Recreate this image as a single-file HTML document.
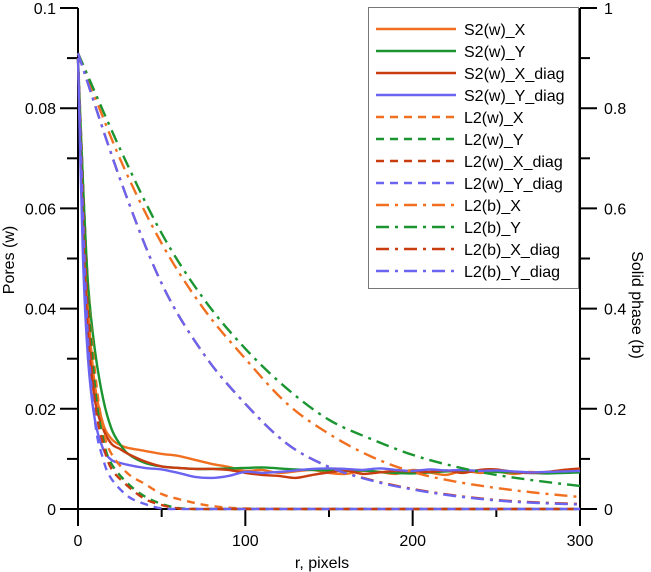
<!DOCTYPE html>
<html><head><meta charset="utf-8"><style>
body{margin:0;background:#fff}
svg{display:block;font-family:"Liberation Sans",Arial,sans-serif}
</style></head><body>
<svg id="chart" width="651" height="572" viewBox="0 0 651 572">
<g id="axes"></g><g id="series"></g><g id="legend"></g>
</svg>
<script>
// ---- data ----
const rS = [0,3,6,10,15,20,25,30,40,50,60,70,80,90,100,110,120,130,140,150,160,170,180,190,200,210,220,230,240,250,260,270,280,290,300];
const s2X     = [.09,.06,.04,.025,.017,.014,.0128,.0122,.0116,.011,.0106,.0098,.009,.0084,.0076,.0078,.0072,.0075,.0078,.0072,.007,.0076,.0074,.007,.0078,.0073,.0068,.0076,.0072,.0075,.007,.0074,.0072,.0076,.0074];
const s2Y     = [.09,.065,.045,.032,.022,.016,.013,.011,.0092,.0085,.0082,.008,.008,.0081,.0082,.0083,.0081,.0079,.0078,.0077,.0076,.0077,.0074,.0072,.0071,.0073,.0075,.0076,.0077,.0074,.0073,.0072,.0071,.0072,.0073];
const s2Xdiag = [.09,.055,.035,.022,.016,.013,.012,.011,.0095,.0085,.0082,.008,.008,.0078,.0072,.0068,.0066,.0062,.0068,.0073,.0077,.007,.0073,.0076,.0075,.0074,.0077,.0072,.0078,.0079,.0074,.0072,.0074,.0078,.0081];
const s2Ydiag = [.09,.05,.03,.018,.012,.0098,.0092,.0088,.0082,.0079,.0072,.0064,.0062,.0066,.0074,.0072,.0074,.0077,.008,.0081,.008,.0078,.0081,.0078,.0076,.0079,.0077,.0078,.0076,.0077,.0075,.0073,.0074,.0075,.0076];
const rW = [0,5,10,15,20,30,40,50,60,70,80,100,150,200,250,300];
const l2wX     = [.09,.05,.028,.016,.011,.007,.005,.003,.002,.0012,.0006,.0001,0,0,0,0];
const l2wY     = [.09,.05,.025,.014,.009,.005,.0025,.001,.0002,0,0,0,0,0,0,0];
const l2wXdiag = [.09,.045,.022,.013,.008,.0045,.002,.0008,.0001,0,0,0,0,0,0,0];
const l2wYdiag = [.09,.04,.018,.01,.006,.0025,.001,.0001,0,0,0,0,0,0,0,0];
const rB = [0,25,50,75,100,125,150,175,200,225,250,275,300];
const l2bX     = [.91,.70,.53,.40,.30,.21,.15,.105,.074,.055,.042,.032,.024];
const l2bY     = [.91,.72,.55,.42,.32,.24,.178,.14,.108,.085,.068,.056,.046];
const l2bXdiag = [.91,.66,.45,.31,.21,.13,.084,.058,.04,.027,.018,.013,.01];
const l2bYdiag = [.91,.66,.45,.31,.21,.13,.084,.057,.039,.026,.017,.012,.009];
const xTicks = [0,100,200,300];
const yLeftTicks = [0,0.02,0.04,0.06,0.08,0.1];
const yLeftLabels = ["0","0.02","0.04","0.06","0.08","0.1"];
const yRightTicks = [0,0.2,0.4,0.6,0.8,1];
const yRightLabels = ["0","0.2","0.4","0.6","0.8","1"];
// ---- scales ----
const X0=78,X1=580,Y0=509,Y1=8;
const sx=v=>X0+v/300*(X1-X0);
const syL=v=>Y0-v/0.1*(Y0-Y1);
const syR=v=>Y0-v*(Y0-Y1);
const NS="http://www.w3.org/2000/svg";
function mk(tag,attrs,parent){const e=document.createElementNS(NS,tag);for(const k in attrs)e.setAttribute(k,attrs[k]);parent.appendChild(e);return e;}
const axes=document.getElementById('axes'),ser=document.getElementById('series'),leg=document.getElementById('legend');
let a=mk('line',{x1:X0,y1:Y1,x2:X0,y2:Y0,stroke:'#000','stroke-width':2},axes);

a=mk('line',{x1:X1,y1:Y1,x2:X1,y2:Y0,stroke:'#000','stroke-width':2},axes);

a=mk('line',{x1:60,y1:Y0,x2:X1+16,y2:Y0,stroke:'#000','stroke-width':2},axes);

for(let i=0;i<=10;i++){const v=i*0.01,y=syL(v);mk('line',{x1:i%2?67:60,y1:y,x2:X0,y2:y,stroke:'#000','stroke-width':2},axes);}
yLeftTicks.forEach((v,i)=>{const t=mk('text',{x:56,y:syL(v)+6,'text-anchor':'end','font-size':16},axes);t.textContent=yLeftLabels[i];
});
for(let i=0;i<=10;i++){const v=i*0.1,y=syR(v);mk('line',{x1:X1,y1:y,x2:i%2?590:597,y2:y,stroke:'#000','stroke-width':2},axes);}
yRightTicks.forEach((v,i)=>{const t=mk('text',{x:604,y:syR(v)+6,'font-size':16},axes);t.textContent=yRightLabels[i];
});
for(let i=0;i<=6;i++){const v=i*50,x=sx(v);mk('line',{x1:x,y1:Y0,x2:x,y2:i%2?517:526,stroke:'#000','stroke-width':2},axes);}
xTicks.forEach(v=>{const t=mk('text',{x:sx(v),y:546,'text-anchor':'middle','font-size':16},axes);t.textContent=String(v);
});
let t=mk('text',{x:322,y:568,'text-anchor':'middle','font-size':16},axes);t.textContent='r, pixels';

t=mk('text',{x:0,y:0,'text-anchor':'middle','font-size':16,transform:'translate(14,260) rotate(-90)'},axes);t.textContent='Pores (w)';

t=mk('text',{x:0,y:0,'text-anchor':'middle','font-size':16,transform:'translate(632,305) rotate(90)'},axes);t.textContent='Solid phase (b)';

const OR='#f07020',GR='#1a9530',RD='#c83c10',BL='#6a64f0';
const DASH='8,6',DD='13,6,3,6';
const series=[
 ['S2(w)_X',rS,s2X,OR,null,syL],['S2(w)_Y',rS,s2Y,GR,null,syL],['S2(w)_X_diag',rS,s2Xdiag,RD,null,syL],['S2(w)_Y_diag',rS,s2Ydiag,BL,null,syL],
 ['L2(w)_X',rW,l2wX,OR,DASH,syL],['L2(w)_Y',rW,l2wY,GR,DASH,syL],['L2(w)_X_diag',rW,l2wXdiag,RD,DASH,syL],['L2(w)_Y_diag',rW,l2wYdiag,BL,DASH,syL],
 ['L2(b)_X',rB,l2bX,OR,DD,syR],['L2(b)_Y',rB,l2bY,GR,DD,syR],['L2(b)_X_diag',rB,l2bXdiag,RD,DD,syR],['L2(b)_Y_diag',rB,l2bYdiag,BL,DD,syR]];
function smoothPath(pts){let d='M'+pts[0][0].toFixed(1)+','+pts[0][1].toFixed(1);
 for(let i=0;i<pts.length-1;i++){const p0=pts[i-1]||pts[i],p1=pts[i],p2=pts[i+1],p3=pts[i+2]||p2;
  const c1=[p1[0]+(p2[0]-p0[0])/6,p1[1]+(p2[1]-p0[1])/6],c2=[p2[0]-(p3[0]-p1[0])/6,p2[1]-(p3[1]-p1[1])/6];
  d+=' C'+c1.map(v=>v.toFixed(1))+' '+c2.map(v=>v.toFixed(1))+' '+p2.map(v=>v.toFixed(1));}
 return d;}
series.forEach(s=>{const pts=s[1].map((r,i)=>[sx(r),s[5](s[2][i])]);
 const p=mk('path',{d:smoothPath(pts),fill:'none',stroke:s[3],'stroke-width':2.4},ser);
 if(s[4])p.setAttribute('stroke-dasharray',s[4]);
 
 });
const box=mk('rect',{x:368.5,y:7.5,width:210,height:281,fill:'#fff',stroke:'#777','stroke-width':1},leg);

series.forEach((s,i)=>{const y=29+i*22;
 const l=mk('line',{x1:376,y1:y,x2:456,y2:y,stroke:s[3],'stroke-width':2.4},leg);
 if(s[4])l.setAttribute('stroke-dasharray',s[4]);
 
 const tx=mk('text',{x:464,y:y+6,'font-size':16},leg);tx.textContent=s[0];
 });
</script>
</body></html>
